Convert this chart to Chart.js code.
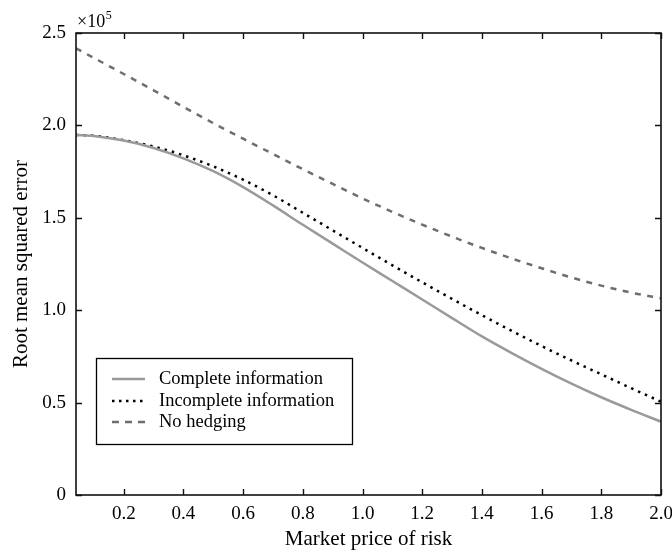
<!DOCTYPE html>
<html><head><meta charset="utf-8">
<script src="https://cdn.jsdelivr.net/npm/chart.js@4.4.1/dist/chart.umd.min.js"></script>
<style>html,body{margin:0;padding:0;background:#fff}#wrap{width:672px;height:550px}</style>
</head><body><div id="wrap"><canvas id="c" width="672" height="550"></canvas></div>
<script>
// Data (y values in units of 10^5)
const marketPriceOfRisk = [0.04,0.1,0.2,0.3,0.4,0.5,0.6,0.7,0.8,0.9,1.0,1.1,1.2,1.3,1.4,1.5,1.6,1.7,1.8,1.9,2.0];
const completeInformation = [1.948,1.943,1.918,1.878,1.822,1.752,1.666,1.567,1.462,1.36,1.258,1.158,1.058,0.957,0.858,0.768,0.683,0.603,0.529,0.461,0.397];
const incompleteInformation = [1.948,1.944,1.92,1.886,1.838,1.778,1.706,1.622,1.527,1.432,1.337,1.243,1.151,1.061,0.973,0.888,0.806,0.728,0.653,0.578,0.505];
const noHedging = [2.417,2.365,2.278,2.19,2.10,2.012,1.928,1.845,1.763,1.683,1.605,1.532,1.463,1.398,1.337,1.28,1.227,1.177,1.133,1.095,1.065];
const seriesLabels = ['Complete information','Incomplete information','No hedging'];
const xTickValues = [0.2,0.4,0.6,0.8,1.0,1.2,1.4,1.6,1.8,2.0];
const xTickLabels = ['0.2','0.4','0.6','0.8','1.0','1.2','1.4','1.6','1.8','2.0'];
const yTickValues = [0,0.5,1.0,1.5,2.0,2.5];
const yTickLabels = ['0','0.5','1.0','1.5','2.0','2.5'];
const yExponent = '5';
const xTitle = 'Market price of risk';
const yTitle = 'Root mean squared error';

const FONT = '"Liberation Serif", "Times New Roman", serif';
const toPoints = arr => arr.map((v,i)=>({x: marketPriceOfRisk[i], y: v}));

const framePlugin = {
  id: 'frameTicks',
  afterDatasetsDraw(chart) {
    const ctx = chart.ctx, ca = chart.chartArea;
    const xs = chart.scales.x, ys = chart.scales.y;
    const tl = 6;
    ctx.save();
    ctx.strokeStyle = '#111';
    ctx.lineWidth = 1.4;
    ctx.setLineDash([]);
    ctx.beginPath();
    xs.ticks.forEach((t,i)=>{
      const px = Math.round(xs.getPixelForTick(i)) + 0.5;
      ctx.moveTo(px, ca.bottom); ctx.lineTo(px, ca.bottom - tl);
      ctx.moveTo(px, ca.top); ctx.lineTo(px, ca.top + tl);
    });
    ys.ticks.forEach((t,i)=>{
      const py = Math.round(ys.getPixelForTick(i)) + 0.5;
      ctx.moveTo(ca.left, py); ctx.lineTo(ca.left + tl, py);
      ctx.moveTo(ca.right, py); ctx.lineTo(ca.right - tl, py);
    });
    ctx.stroke();
    ctx.lineWidth = 1.6;
    ctx.strokeRect(ca.left, ca.top, ca.right - ca.left, ca.bottom - ca.top);
    ctx.restore();
  },
  afterDraw(chart) {
    const ctx = chart.ctx, ca = chart.chartArea;
    ctx.save();
    // exponent label
    ctx.fillStyle = '#000';
    ctx.textBaseline = 'alphabetic';
    ctx.textAlign = 'left';
    ctx.font = '18px ' + FONT;
    const base = '\u00d710';
    ctx.fillText(base, ca.left + 1, ca.top - 6);
    const w = ctx.measureText(base).width;
    ctx.font = '12px ' + FONT;
    ctx.fillText(yExponent, ca.left + 1 + w + 0.5, ca.top - 14);
    // legend box
    const bx = ca.left + 20, by = ca.bottom - 137, bw = 256, bh = 86;
    ctx.fillStyle = '#fff';
    ctx.fillRect(bx, by, bw, bh);
    ctx.strokeStyle = '#000';
    ctx.lineWidth = 1.3;
    ctx.setLineDash([]);
    ctx.strokeRect(bx + 0.5, by + 0.5, bw, bh);
    const rows = [21, 43, 64];
    chart.data.datasets.forEach((ds, i) => {
      const y = by + rows[i];
      ctx.strokeStyle = ds.borderColor;
      ctx.lineWidth = ds.borderWidth;
      ctx.setLineDash(ds.legendDash || ds.borderDash || []);
      ctx.lineCap = 'butt';
      ctx.beginPath();
      ctx.moveTo(bx + 16, y);
      ctx.lineTo(bx + 49, y);
      ctx.stroke();
      ctx.setLineDash([]);
      ctx.fillStyle = '#000';
      ctx.font = '18.5px ' + FONT;
      ctx.textBaseline = 'middle';
      ctx.fillText(ds.label, bx + 63, y);
    });
    ctx.restore();
  }
};

new Chart(document.getElementById('c'), {
  type: 'line',
  data: {
    datasets: [
      { label: seriesLabels[0], data: toPoints(completeInformation), borderColor: '#9a9a9a', borderWidth: 2.5, pointRadius: 0, cubicInterpolationMode: 'monotone', fill: false },
      { label: seriesLabels[1], data: toPoints(incompleteInformation), borderColor: '#000000', borderWidth: 2.5, borderDash: [2.5, 5], legendDash: [2.5, 4.5], pointRadius: 0, cubicInterpolationMode: 'monotone', fill: false },
      { label: seriesLabels[2], data: toPoints(noHedging), borderColor: '#6e6e6e', borderWidth: 2.5, borderDash: [6, 6.5], legendDash: [7, 6], pointRadius: 0, cubicInterpolationMode: 'monotone', fill: false }
    ]
  },
  options: {
    responsive: false,
    animation: false,
    devicePixelRatio: 1,
    layout: { padding: { top: 33, right: 11, left: 0, bottom: 0 } },
    plugins: { legend: { display: false }, tooltip: { enabled: false } },
    scales: {
      x: {
        type: 'linear', min: 0.04, max: 2.0,
        afterBuildTicks: s => { s.ticks = xTickValues.map(v => ({ value: v })); },
        afterFit: s => { s.height = 55; s.paddingLeft = 0; s.paddingRight = 0; },
        grid: { display: false },
        border: { display: false },
        ticks: { autoSkip: false, maxRotation: 0, color: '#000', padding: 0,
          font: { family: FONT, size: 19 },
          callback: (v, i) => xTickLabels[i] },
        title: { display: true, text: xTitle, color: '#000',
          font: { family: FONT, size: 21, lineHeight: 1 }, padding: { top: 0, bottom: 0 } }
      },
      y: {
        type: 'linear', min: 0, max: 2.5,
        afterBuildTicks: s => { s.ticks = yTickValues.map(v => ({ value: v })); },
        afterFit: s => { s.width = 76; s.paddingTop = 0; s.paddingBottom = 0; },
        grid: { display: false },
        border: { display: false },
        ticks: { autoSkip: false, color: '#000', padding: 2,
          font: { family: FONT, size: 19 },
          callback: (v, i) => yTickLabels[i] },
        title: { display: true, text: yTitle, color: '#000',
          font: { family: FONT, size: 21, lineHeight: 1 }, padding: { top: 11, bottom: 0 } }
      }
    }
  },
  plugins: [framePlugin]
});
</script>
</body></html>
